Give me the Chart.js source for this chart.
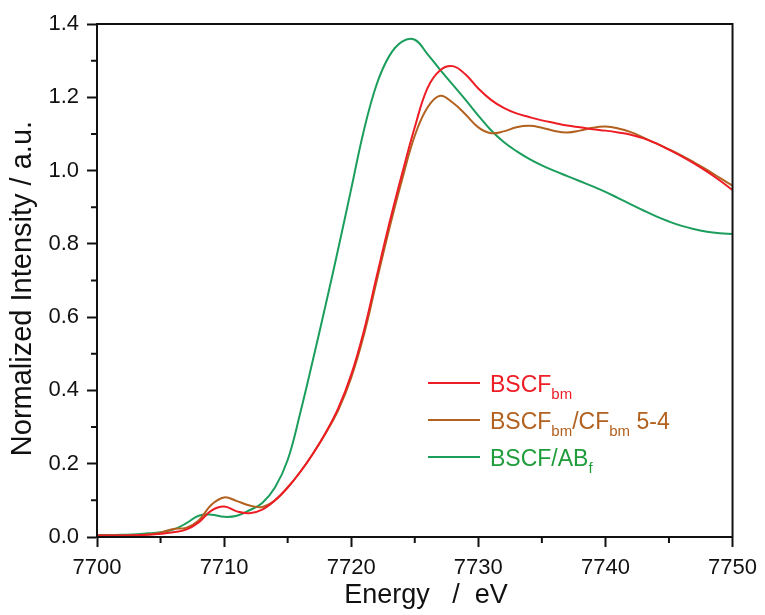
<!DOCTYPE html>
<html>
<head>
<meta charset="utf-8">
<script src="https://cdn.jsdelivr.net/npm/chart.js@4/dist/chart.umd.min.js"></script>
<style>
html,body{margin:0;padding:0;background:#fff;}
canvas{display:block;}
</style>
</head>
<body>
<canvas id="c" width="765" height="615"></canvas>
<script>
const energy = [7700,7702,7704,7705,7706,7707,7708,7709,7710,7711,7712,7713,7714,7715,7716,7717,7718,7719,7720,7721,7722,7723,7724,7725,7726,7727,7728,7729,7730,7731,7732,7733,7734,7735,7736,7737,7738,7739,7740,7741,7742,7743,7744,7745,7746,7747,7748,7749,7750];

const bscfBm = [0.004,0.004,0.006,0.009,0.013,0.020,0.040,0.072,0.083,0.070,0.065,0.075,0.100,0.135,0.178,0.228,0.285,0.353,0.443,0.563,0.711,0.856,0.991,1.118,1.225,1.274,1.285,1.262,1.224,1.193,1.171,1.156,1.146,1.137,1.130,1.123,1.118,1.113,1.109,1.104,1.098,1.088,1.074,1.057,1.039,1.019,0.997,0.973,0.947];

const bscfCf = [0.004,0.004,0.007,0.012,0.022,0.025,0.045,0.088,0.108,0.098,0.086,0.082,0.100,0.135,0.178,0.228,0.284,0.348,0.435,0.552,0.698,0.842,0.975,1.095,1.172,1.204,1.185,1.153,1.118,1.102,1.107,1.118,1.122,1.117,1.108,1.104,1.109,1.117,1.120,1.115,1.105,1.090,1.074,1.058,1.041,1.022,1.002,0.980,0.959];

const bscfAb = [0.005,0.006,0.010,0.013,0.020,0.037,0.058,0.061,0.055,0.058,0.073,0.093,0.135,0.210,0.340,0.485,0.635,0.790,0.950,1.110,1.235,1.313,1.352,1.357,1.318,1.275,1.234,1.193,1.150,1.110,1.078,1.053,1.032,1.014,0.999,0.985,0.971,0.957,0.942,0.925,0.908,0.891,0.875,0.861,0.849,0.840,0.833,0.829,0.827];

const xTicks = [7700,7710,7720,7730,7740,7750];
const yTicks = [0.0,0.2,0.4,0.6,0.8,1.0,1.2,1.4];
const xMinorTicks = [7705,7715,7725,7735,7745];
const yMinorTicks = [0.1,0.3,0.5,0.7,0.9,1.1,1.3];

const legendLabels = [
  [{t:'BSCF'},{t:'bm',sub:true}],
  [{t:'BSCF'},{t:'bm',sub:true},{t:'/CF'},{t:'bm',sub:true},{t:' 5-4'}],
  [{t:'BSCF/AB'},{t:'f',sub:true}]
];
const lineColors = ['#ee1d25','#b2611f','#1b9e5c'];
const textColors = ['#ee1d25','#b2611f','#1f9d3a'];

function pts(ys){ return energy.map((e,i)=>({x:e,y:ys[i]})); }

const FONT = "'Liberation Sans', Arial, sans-serif";

const framePlugin = {
  id:'frame',
  afterDraw(chart){
    const ctx = chart.ctx, ca = chart.chartArea;
    const xs = chart.scales.x, ys = chart.scales.y;
    ctx.save();
    ctx.strokeStyle = '#111';
    ctx.lineWidth = 2;
    ctx.strokeRect(ca.left, ca.top, ca.right-ca.left, ca.bottom-ca.top);
    ctx.beginPath();
    xMinorTicks.forEach(v=>{
      const px = xs.getPixelForValue(v);
      ctx.moveTo(px, ca.bottom); ctx.lineTo(px, ca.bottom+6);
    });
    yMinorTicks.forEach(v=>{
      const py = ys.getPixelForValue(v);
      ctx.moveTo(ca.left, py); ctx.lineTo(ca.left-6, py);
    });
    ctx.stroke();
    // legend
    const lx0 = ca.left + 331, lx1 = ca.left + 383, tx = ca.left + 393;
    const rowY = [ca.top + 359, ca.top + 396, ca.top + 433];
    legendLabels.forEach((parts,i)=>{
      const y = rowY[i];
      ctx.strokeStyle = lineColors[i];
      ctx.lineWidth = 2;
      ctx.beginPath(); ctx.moveTo(lx0,y); ctx.lineTo(lx1,y); ctx.stroke();
      ctx.fillStyle = textColors[i];
      ctx.textBaseline = 'alphabetic';
      ctx.textAlign = 'left';
      let x = tx;
      parts.forEach(p=>{
        if(p.sub){
          ctx.font = '15px ' + FONT;
          ctx.fillText(p.t, x, y + 16);
        } else {
          ctx.font = '23px ' + FONT;
          ctx.fillText(p.t, x, y + 9);
        }
        x += ctx.measureText(p.t).width;
      });
    });
    ctx.restore();
  }
};

new Chart(document.getElementById('c'), {
  type:'line',
  data:{
    datasets:[
      {label:'BSCFbm', data:pts(bscfBm), borderColor:lineColors[0]},
      {label:'BSCFbm/CFbm 5-4', data:pts(bscfCf), borderColor:lineColors[1]},
      {label:'BSCF/ABf', data:pts(bscfAb), borderColor:lineColors[2]}
    ].map(d=>Object.assign(d,{borderWidth:2,pointRadius:0,fill:false,tension:0.4}))
  },
  options:{
    responsive:false,
    animation:false,
    devicePixelRatio:1,
    layout:{padding:{top:24,right:32,left:0,bottom:0}},
    plugins:{legend:{display:false},tooltip:{enabled:false}},
    scales:{
      x:{
        type:'linear', min:7700, max:7750,
        afterBuildTicks(s){ s.ticks = xTicks.map(v=>({value:v})); },
        afterFit(s){ s.height = 78; },
        grid:{drawOnChartArea:false, drawTicks:true, tickLength:10, tickWidth:2, tickColor:'#111'},
        border:{display:true, color:'#111', width:2},
        ticks:{padding:8, color:'#111', font:{family:FONT, size:22}, maxRotation:0, callback:v=>String(v)},
        title:{display:true, text:'   Energy   /  eV', color:'#111', font:{family:FONT, size:27}, padding:{top:0,bottom:3}}
      },
      y:{
        type:'linear', min:0, max:1.4,
        afterBuildTicks(s){ s.ticks = yTicks.map(v=>({value:v})); },
        afterFit(s){ s.width = 97; },
        grid:{drawOnChartArea:false, drawTicks:true, tickLength:10, tickWidth:2, tickColor:'#111'},
        border:{display:true, color:'#111', width:2},
        ticks:{padding:8, color:'#111', font:{family:FONT, size:22}, callback:v=>Number(v).toFixed(1)},
        title:{display:true, text:'Normalized Intensity / a.u.  ', color:'#111', font:{family:FONT, size:29}, padding:{top:6,bottom:0}}
      }
    }
  },
  plugins:[framePlugin]
});
</script>
</body>
</html>
